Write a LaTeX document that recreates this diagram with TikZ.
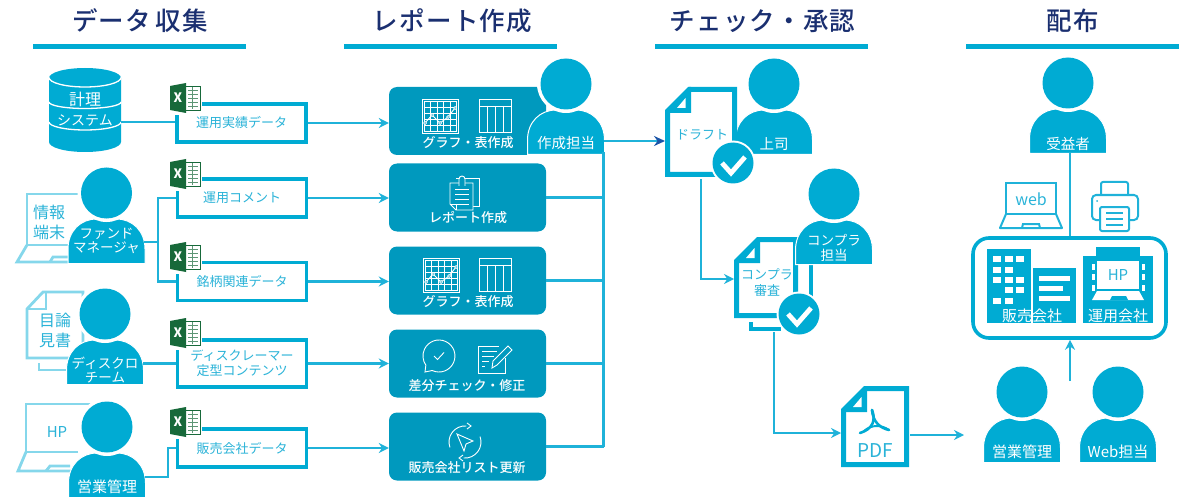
\documentclass[tikz,border=0pt]{standalone}
\usepackage{fontspec}
\setmainfont{Noto Sans CJK JP}
\newfontfamily\mediumfont{Noto Sans CJK JP Medium}
\usetikzlibrary{arrows.meta}
\definecolor{titleNavy}{HTML}{1A2F70}
\definecolor{mainBlue}{HTML}{00ABD3}
\definecolor{boxBlue}{HTML}{0099BE}
\definecolor{lineBlue}{HTML}{1FB2D9}
\definecolor{paleBlue}{HTML}{85D7EB}
\definecolor{textBlue}{HTML}{2AB3D8}
\definecolor{excelGreen}{HTML}{17693A}
\definecolor{tipNavy}{HTML}{1B55A8}
\tikzset{
    titletext/.style={text=titleNavy,font=\fontsize{25.5}{30}\mediumfont\addfontfeature{LetterSpace=5},inner sep=0},
    titlebar/.style={draw=mainBlue,line width=5},
    link/.style={draw=lineBlue,line width=2.1},
    arrowlink/.style={link,-{Stealth[length=10pt,width=10pt]}},
    databox/.style={draw=mainBlue,line width=3.3,fill=white,minimum width=129,minimum height=38,inner sep=0,text=textBlue,align=center,font=\fontsize{13}{15}\selectfont},
    reportbox/.style={fill=boxBlue,rounded corners=8,minimum width=157,minimum height=68,inner sep=0},
    reportlabel/.style={text=white,inner sep=0,font=\fontsize{13}{15}\mediumfont},
    personlabel/.style={text=white,inner sep=0,align=center,font=\fontsize{13.5}{14.5}\selectfont},
    bluetext/.style={text=textBlue,inner sep=0,align=center,font=\fontsize{16}{20}\selectfont},
    doctext/.style={text=textBlue,inner sep=0,align=center,font=\fontsize{13}{16}\selectfont},
    whitetext/.style={text=white,inner sep=0,font=\fontsize{15}{17}\selectfont},
    paleline/.style={draw=paleBlue,line width=2.8,fill=white},
    iconline/.style={draw=white,line width=.9},
    blueline/.style={draw=lineBlue,line width=2},
}
\newcommand\personfig[5]{
    \begin{scope}[shift={(#2,#3)}]
        \path[fill=mainBlue,draw=white,line width=1] (-38.5,70.5) -- (-38.5,56) .. controls (-38.5,38) and (-26,26) .. (-10,26) -- (10,26) .. controls (26,26) and (38.5,38) .. (38.5,56) -- (38.5,70.5) -- cycle;
        \fill[white] (0,0) circle (29);
        \fill[mainBlue] (0,0) circle (25.5);
        \coordinate (#1-e) at (38,50);
        \coordinate (#1-se) at (38,70);
        \coordinate (#1-s) at (0,70);
        \node[personlabel] (#1-label) at (0,#5) {#4};
    \end{scope}
}
\newcommand\excelicon[3]{
    \begin{scope}[shift={(#2,#3)}]
        \fill[white] (-2,-2) rectangle (32,32);
        \draw[excelGreen,fill=white,line width=.6] (14,3) rectangle (30,27);
        \foreach \yy in {7,11,15,19,23} {\draw[excelGreen!70,line width=.7] (18,\yy) -- (28,\yy);}
        \draw[excelGreen!70,line width=.7] (22,4) -- (22,26);
        \fill[excelGreen] (0,3) -- (16,0) -- (16,30) -- (0,27) -- cycle;
        \node[text=white,inner sep=0,font=\fontsize{13}{13}\selectfont\bfseries] (#1) at (8,15) {X};
    \end{scope}
}
\newcommand\docpage[5]{
    \draw[draw=mainBlue,line width=5,fill=white,line join=miter] (#2+2.5,#3+25) -- (#2+25,#3+2.5) -- (#4-2.5,#3+2.5) -- (#4-2.5,#5-2.5) -- (#2+2.5,#5-2.5) -- cycle;
    \fill[mainBlue] (#2,#3+26) -- (#2,#3+23) -- (#2+23,#3) -- (#2+26,#3) -- (#2+26,#3+26) -- cycle;
    \fill[white] (#2+12,#3+21) -- (#2+20.5,#3+11) -- (#2+20.5,#3+21) -- cycle;
    \coordinate (#1-w) at (#2,#3+47);
    \coordinate (#1-e) at (#4,#3+48);
    \coordinate (#1-s) at (#2+36,#5);
}
\newcommand\checkbadge[3]{
    \fill[white] (#2,#3) circle (22.5);
    \fill[mainBlue] (#2,#3) circle (20.5);
    \draw[white,line width=4.8] (#2-11,#3) -- (#2-2,#3+10) -- (#2+12,#3-6);
    \coordinate (#1) at (#2,#3);
}
\newcommand\charticon[2]{
    \begin{scope}[shift={(#1,#2)}]
        \draw[iconline] (0,0) rectangle (36,34);
        \draw[iconline] (2,2) rectangle (34,32);
        \foreach \xx in {8.5,15,21.5,28} {\draw[draw=white,line width=.6] (\xx,2) -- (\xx,32);}
        \foreach \yy in {8,14,20,26} {\draw[draw=white,line width=.6] (2,\yy) -- (34,\yy);}
        \draw[iconline] (3,24) -- (10,16) -- (18,24) -- (26,18) -- (33,9);
        \foreach \xx/\yy in {3/24,10/16,18/24,26/18,33/9} {\draw[draw=white,fill=boxBlue,line width=.7] (\xx,\yy) circle (1.5);}
    \end{scope}
}
\newcommand\tableicon[2]{
    \begin{scope}[shift={(#1,#2)}]
        \draw[iconline] (0,0) rectangle (32,33);
        \draw[iconline] (0,7) -- (32,7);
        \foreach \xx in {8,16,24} {\draw[iconline] (\xx,7) -- (\xx,33);}
    \end{scope}
}
\begin{document}
\begin{tikzpicture}[x=1pt,y=-1pt]
    \useasboundingbox (0,0) rectangle (1201,497);

    % titles
    \node[titletext] (ttlCollect) at (140,21) {データ\,収集};
    \node[titletext] (ttlReport) at (452.5,21) {レポート作成};
    \node[titletext] (ttlCheck) at (762.5,21) {チェック・承認};
    \node[titletext] (ttlDeliver) at (1072.5,21) {配布};
    \foreach \xa/\xb in {33/246,344/557,655/868,966/1179} {
        \draw[titlebar] (\xa,47) -- (\xb,47);
    }

    % data boxes
    \node[databox] (dataPerf) at (241.5,123) {運用実績データ};
    \node[databox] (dataComment) at (242,198) {運用コメント};
    \node[databox] (dataStock) at (242,281.5) {銘柄関連データ};
    \node[databox,minimum height=47] (dataDisc) at (242,363.5) {ディスクレーマー\\定型コンテンツ};
    \node[databox] (dataSales) at (242,448) {販売会社データ};

    % report boxes
    \node[reportbox] (rptGraphA) at (467.5,121) {};
    \node[reportbox] (rptReport) at (467.5,197.5) {};
    \node[reportbox] (rptGraphB) at (467.5,280.5) {};
    \node[reportbox] (rptDiff) at (467.5,363.5) {};
    \node[reportbox] (rptList) at (467.5,446.5) {};

    \charticon{422}{99}
    \tableicon{479}{99}
    \node[reportlabel] (lblGraphA) at (468,143) {グラフ・表作成};
    \node[reportlabel] (lblReport) at (468,218) {レポート作成};
    \charticon{423}{258}
    \tableicon{479}{258}
    \node[reportlabel] (lblGraphB) at (468,302) {グラフ・表作成};
    \node[reportlabel] (lblDiff) at (467,386) {差分チェック・修正};
    \node[reportlabel] (lblList) at (467,468) {販売会社リスト更新};

    % clip document icon
    \draw[iconline] (456,178) -- (479,178) -- (479,206) -- (473,206);
    \draw[iconline,fill=boxBlue] (450,183) -- (473,183) -- (473,210) -- (456,210) -- (450,204) -- cycle;
    \draw[iconline] (456,210) -- (456,204) -- (450,204);
    \foreach \yy in {189,194,199,204} {\draw[iconline] (455,\yy) -- (469,\yy);}
    \draw[iconline,fill=boxBlue] (459,186) -- (459,179) arc[start angle=180,end angle=360,radius=3] -- (465,186);

    % bubble icon
    \draw[iconline] (432.2,370.5) arc[start angle=115,end angle=-215,radius=16] -- (425,372) -- cycle;
    \draw[iconline] (434,356) -- (437.5,359.5) -- (444,352.5);
    % note and pencil icon
    \draw[iconline] (505,358) -- (505,373) -- (478,373) -- (478,346) -- (499,346);
    \foreach \yy/\xx in {351/497,356/494,361/489,366/485} {\draw[iconline] (482,\yy) -- (\xx,\yy);}
    \draw[iconline,fill=boxBlue] (492,368) -- (493,361) -- (508,346) -- (512,350) -- (497,365) -- cycle;

    % update icon
    \draw[iconline] (466.4,426) arc[start angle=-85,end angle=-200,radius=16];
    \draw[iconline] (463.6,458) arc[start angle=95,end angle=-20,radius=16];
    \draw[iconline] (467,423) -- (471,426) -- (467,429);
    \draw[iconline] (463,455) -- (459,458) -- (463,461);
    \draw[iconline] (457,434) -- (473,441) -- (466,444) -- (464,451) -- cycle;

    % links from data to reports
    \draw[arrowlink] (dataPerf.east) -- (dataPerf.east -| rptGraphA.west);
    \draw[arrowlink] (dataComment.east) -- (dataComment.east -| rptReport.west);
    \draw[arrowlink] (dataStock.east) -- (dataStock.east -| rptGraphB.west);
    \draw[arrowlink] (dataDisc.east) -- (dataDisc.east -| rptDiff.west);
    \draw[arrowlink] (dataSales.east) -- (dataSales.east -| rptList.west);

    % light frames behind people
    \draw[paleline] (72,245) -- (27,245) -- (27,194) -- (90,194);
    \draw[paleline,fill=none] (27,245) -- (17,262) -- (70,262);
    \draw[paleline,fill=none] (50,262) -- (53,257) -- (70,257);
    \node[bluetext] (lblTerminal) at (49,222) {情報\\端末};

    \draw[paleline] (43,292) -- (83,292) -- (83,320) -- (83,358) -- (27,358) -- (27,309) -- cycle;
    \draw[paleline,fill=none] (27,309) -- (46,309) -- (46,292);
    \draw[paleline,fill=none] (39,363) -- (39,370) -- (72,370);
    \node[bluetext] (lblProspectus) at (55,330) {目論\\見書};

    \draw[paleline] (78,452) -- (26,452) -- (26,404) -- (92,404);
    \draw[paleline,fill=none] (26,452) -- (18,471) -- (72,471);
    \draw[paleline,fill=none] (46,471) -- (50,466) -- (70,466);
    \node[bluetext,font=\fontsize{15}{17}\selectfont] (lblLeftHp) at (57,432) {HP};

    % database
    \fill[mainBlue] (49,78) arc[start angle=180,end angle=360,x radius=36,y radius=10] -- (121,142) arc[start angle=0,end angle=180,x radius=36,y radius=10] -- cycle;
    \draw[white,line width=1.3] (49,77.5) arc[start angle=180,end angle=0,x radius=36,y radius=9.5];
    \draw[white,line width=1.3] (49,102) arc[start angle=180,end angle=0,x radius=36,y radius=6.5];
    \draw[white,line width=1.3] (49,122) arc[start angle=180,end angle=0,x radius=36,y radius=8];
    \node[whitetext,font=\fontsize{16}{17}\selectfont] (dbSystem) at (85,99) {計理};
    \node[whitetext,font=\fontsize{14}{15}\selectfont] (dbName) at (85,120) {システム};
    \coordinate (dbEast) at (121,122);

    % people on the left
    \personfig{fundMgr}{106.5}{193}{ファンド\\マネージャ}{48}
    \personfig{discTeam}{105}{314}{ディスクロ\\チーム}{56}
    \personfig{salesLeft}{107}{427}{\fontsize{15}{16}\selectfont 営業管理}{60}

    % links into data boxes
    \draw[link] (dbEast) -- (dbEast -| dataPerf.west);
    \coordinate (fundOut) at (144,242);
    \coordinate (fundMid) at (158,242);
    \draw[link] (fundOut) -- (fundMid);
    \draw[link] (fundMid) |- (dataComment.west);
    \draw[link] (fundMid) |- (dataStock.west);
    \coordinate (discOut) at (143,363.5);
    \draw[link] (discOut) -- (dataDisc.west);
    \coordinate (salesOut) at (145,477);
    \coordinate (salesMid) at (168,477);
    \draw[link] (salesOut) -- (salesMid) |- (dataSales.west);

    % excel icons
    \excelicon{xlsPerf}{170}{83}
    \excelicon{xlsComment}{170}{159}
    \excelicon{xlsStock}{170}{242}
    \excelicon{xlsDisc}{170}{318}
    \excelicon{xlsSales}{170}{407}

    % author and collector line
    \personfig{author}{566}{84}{\fontsize{14.5}{15}\selectfont 作成担当}{59}
    \coordinate (collectTop) at (603.5,152);
    \coordinate (collectEnd) at (603.5,446.5);
    \draw[link] (collectTop) -- (collectEnd);
    \draw[link] (rptReport.east) -- (rptReport.east -| collectTop);
    \draw[link] (rptGraphB.east) -- (rptGraphB.east -| collectTop);
    \draw[link] (rptDiff.east) -- (rptDiff.east -| collectTop);
    \draw[link] (rptList.east) -- (rptList.east -| collectTop);

    % draft
    \personfig{boss}{774}{84}{\fontsize{14.5}{15}\selectfont 上司}{60}
    \docpage{draft}{665}{87}{737}{177}
    \node[doctext] (lblDraft) at (702,135) {ドラフト};
    \checkbadge{draftOk}{733}{163}
    \coordinate (authorOut) at (603.5,141);
    \draw[link,-{Stealth[length=11pt,width=10pt,color=tipNavy]}] (authorOut) -- (authorOut -| draft-w);

    % compliance review
    \draw[draw=mainBlue,line width=4,fill=white] (793,250) rectangle (811,305);
    \draw[draw=mainBlue,line width=4,fill=none] (751,322) -- (751,329) -- (781,329);
    \docpage{review}{734}{237}{798}{318}
    \node[doctext] (lblReview) at (767,283) {コンプラ\\審査};
    \personfig{compliance}{834}{194}{コンプラ\\担当}{54}
    \checkbadge{reviewOk}{799}{314}
    \coordinate (draftOut) at (701,179);
    \coordinate (reviewIn) at (734,279);
    \draw[arrowlink] (draftOut) |- (reviewIn);

    % pdf
    \docpage{pdfDoc}{841}{386}{909}{467}
    \draw[draw=mainBlue,line width=2.6,line cap=round] (872,410) .. controls (876,420) and (873,429) .. (860,433);
    \draw[draw=mainBlue,line width=2.6,line cap=round] (872,410) .. controls (873,422) and (880,428) .. (889,430);
    \draw[draw=mainBlue,line width=2,line cap=round] (864,431) .. controls (872,424) and (882,425) .. (889,430);
    \node[text=textBlue,inner sep=0,font=\fontsize{19}{20}\selectfont] (lblPdf) at (875,451) {PDF};
    \coordinate (reviewOut) at (774,332);
    \draw[arrowlink] (reviewOut) |- (pdfDoc-w);
    \coordinate (pdfOut) at (910,435);
    \coordinate (pdfEnd) at (964,435);
    \draw[arrowlink] (pdfOut) -- (pdfEnd);

    % people on the right
    \personfig{salesRight}{1022}{392}{\fontsize{15}{16}\selectfont 営業管理}{60}
    \personfig{webStaff}{1118}{392}{\fontsize{15}{16}\selectfont Web担当}{60}
    \personfig{receiver}{1068}{83}{\fontsize{14.5}{15}\selectfont 受益者}{61}

    % company frame
    \node[draw=mainBlue,line width=3.6,rounded corners=16,minimum width=193,minimum height=100,inner sep=0] (companyBox) at (1069.5,288) {};
    \coordinate (upStart) at (1070,381);
    \draw[arrowlink] (upStart) -- (upStart |- companyBox.south);
    \draw[link] (1070,153) -- (1070,236);

    % distributor building
    \fill[mainBlue] (987,249) rectangle (1031,323);
    \foreach \xx/\yy in {993/256,1005/256,1016/256,993/267,1005/267,993/277,1005/277,1016/277,1005/287,1016/287,993/298,1005/298} {
        \fill[white] (\xx,\yy) rectangle ++(8,6);
    }
    \fill[mainBlue] (1033,268) rectangle (1076,323);
    \fill[white] (1039,276) rectangle (1070,280.5);
    \fill[white] (1039,286) rectangle (1063,290.5);
    \fill[white] (1039,296) rectangle (1070,300.5);
    \node[whitetext] (lblDistributor) at (1032,316) {販売会社};

    % manager building
    \fill[mainBlue] (1096,247) rectangle (1140,257);
    \fill[mainBlue] (1083,256) rectangle (1153,323);
    \fill[white] (1097,261) rectangle (1139,289);
    \fill[white] (1097,291) -- (1139,291) -- (1144,300) -- (1092,300) -- cycle;
    \fill[mainBlue] (1110,300) -- (1112,296) -- (1126,296) -- (1128,300) -- cycle;
    \foreach \yy in {264,274,285} {
        \fill[white] (1092,\yy) rectangle ++(3,6);
        \fill[white] (1142,\yy) rectangle ++(3,6);
    }
    \node[text=textBlue,inner sep=0,font=\fontsize{15}{17}\selectfont] (lblHp) at (1118,275) {HP};
    \node[whitetext] (lblManager) at (1118,316) {運用会社};

    % web laptop
    \draw[blueline] (1006,214) -- (1006,183) -- (1056,183) -- (1056,214) -- cycle;
    \draw[blueline,line join=round] (1006,214) -- (1000,228) -- (1062,228) -- (1056,214);
    \draw[blueline] (1022,228) -- (1023,224) -- (1039,224) -- (1040,228);
    \node[text=textBlue,inner sep=0,font=\fontsize{16}{18}\selectfont] (lblWeb) at (1031,199) {web};

    % printer
    \draw[blueline,rounded corners=2] (1101,194) -- (1101,182) -- (1128,182) -- (1128,194);
    \draw[blueline,rounded corners=4] (1100,220) -- (1092,220) -- (1092,195) -- (1138,195) -- (1138,220) -- (1129,220);
    \draw[blueline,rounded corners=2,fill=white] (1100,207) rectangle (1129,231);
    \fill[lineBlue] (1097,201) circle (1);
    \foreach \yy in {213,219,225} {\draw[blueline,line width=1.6] (1106,\yy) -- (1123,\yy);}
\end{tikzpicture}
\end{document}
